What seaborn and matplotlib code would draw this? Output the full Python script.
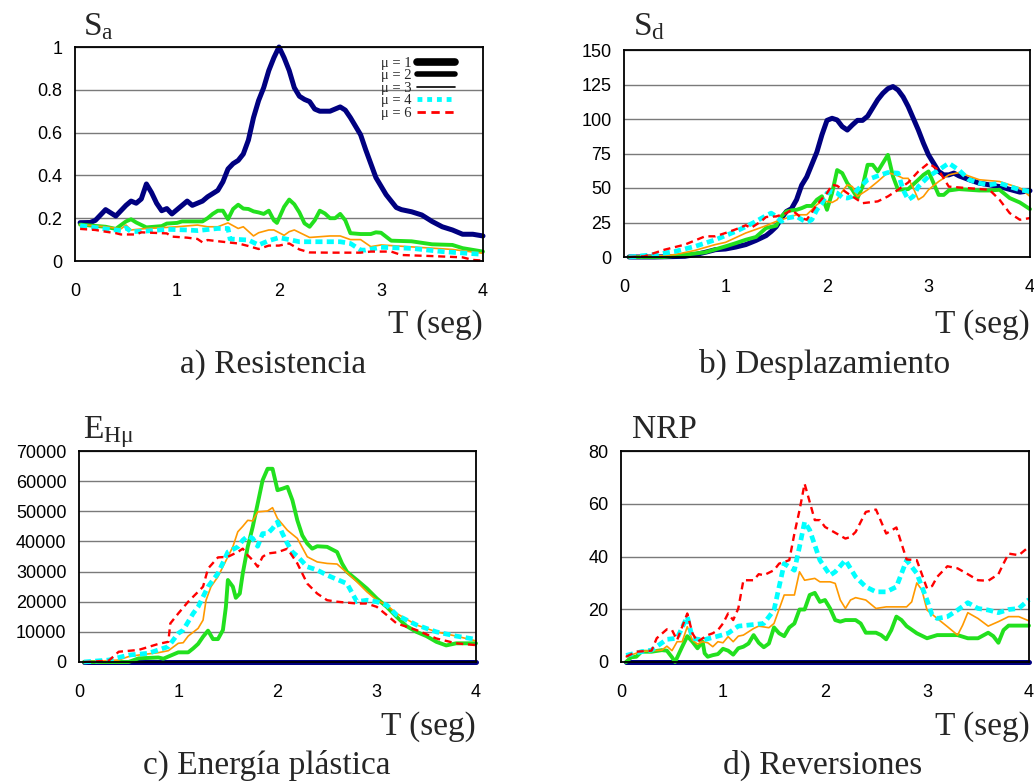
import pandas as pd
import seaborn as sns
import matplotlib.pyplot as plt
from matplotlib.lines import Line2D

# Series labels / colours
mu_labels = ['μ = 1', 'μ = 2', 'μ = 3', 'μ = 4', 'μ = 6']
mu_colors = ['#000080', '#22E01E', '#FF9900', '#00FFFF', '#FF0000']

# a) Resistencia : Sa vs T  (T, value)
sa_mu1 = [(0.05, 0.179), (0.15, 0.18), (0.2, 0.19), (0.3, 0.24), (0.4, 0.21), (0.5, 0.26), (0.55, 0.28),
          (0.6, 0.27), (0.65, 0.29), (0.7, 0.36), (0.75, 0.32), (0.8, 0.27), (0.85, 0.235), (0.9, 0.245),
          (0.95, 0.22), (1.0, 0.24), (1.05, 0.26), (1.1, 0.28), (1.15, 0.26), (1.2, 0.27), (1.25, 0.28),
          (1.3, 0.30), (1.4, 0.33), (1.45, 0.37), (1.5, 0.43), (1.55, 0.455), (1.6, 0.47), (1.65, 0.50),
          (1.7, 0.565), (1.75, 0.67), (1.8, 0.75), (1.85, 0.81), (1.9, 0.89), (1.95, 0.95), (2.0, 1.0),
          (2.05, 0.95), (2.1, 0.89), (2.15, 0.81), (2.2, 0.77), (2.25, 0.755), (2.3, 0.745), (2.35, 0.71),
          (2.4, 0.70), (2.5, 0.70), (2.55, 0.71), (2.6, 0.72), (2.65, 0.705), (2.7, 0.67), (2.8, 0.59),
          (2.85, 0.52), (2.9, 0.455), (2.95, 0.39), (3.0, 0.35), (3.05, 0.31), (3.1, 0.28), (3.15, 0.25),
          (3.2, 0.24), (3.3, 0.23), (3.4, 0.215), (3.5, 0.185), (3.6, 0.16), (3.7, 0.145), (3.8, 0.125),
          (3.9, 0.125), (4.0, 0.117)]
sa_mu2 = [(0.05, 0.17), (0.3, 0.16), (0.4, 0.15), (0.5, 0.185), (0.55, 0.195), (0.6, 0.18), (0.7, 0.157),
          (0.85, 0.163), (0.9, 0.175), (1.0, 0.178), (1.05, 0.185), (1.25, 0.185), (1.3, 0.2), (1.35, 0.22),
          (1.4, 0.235), (1.45, 0.235), (1.5, 0.195), (1.55, 0.243), (1.6, 0.263), (1.65, 0.245), (1.7, 0.243),
          (1.75, 0.232), (1.8, 0.227), (1.85, 0.22), (1.9, 0.235), (1.95, 0.19), (1.98, 0.178), (2.05, 0.253),
          (2.1, 0.287), (2.15, 0.265), (2.2, 0.227), (2.25, 0.176), (2.3, 0.16), (2.35, 0.19), (2.4, 0.235),
          (2.45, 0.222), (2.5, 0.2), (2.55, 0.2), (2.6, 0.22), (2.65, 0.19), (2.7, 0.13), (2.8, 0.126),
          (2.9, 0.126), (2.95, 0.134), (3.0, 0.132), (3.1, 0.095), (3.3, 0.092), (3.5, 0.078), (3.7, 0.075),
          (3.8, 0.06), (4.0, 0.044)]
sa_mu3 = [(0.05, 0.17), (0.3, 0.16), (0.45, 0.15), (0.5, 0.168), (0.55, 0.145), (0.7, 0.152), (0.9, 0.157),
          (1.0, 0.16), (1.2, 0.168), (1.3, 0.16), (1.4, 0.16), (1.5, 0.178), (1.6, 0.152), (1.65, 0.16),
          (1.75, 0.117), (1.8, 0.132), (1.9, 0.145), (1.95, 0.145), (2.05, 0.12), (2.1, 0.137), (2.15, 0.145),
          (2.3, 0.11), (2.5, 0.117), (2.6, 0.117), (2.7, 0.1), (2.8, 0.1), (2.9, 0.067), (3.0, 0.075),
          (3.5, 0.06), (3.7, 0.054), (4.0, 0.036)]
sa_mu4 = [(0.05, 0.165), (0.3, 0.15), (0.45, 0.142), (0.5, 0.155), (0.55, 0.137), (0.7, 0.14), (0.9, 0.148),
          (1.1, 0.145), (1.2, 0.142), (1.4, 0.152), (1.5, 0.152), (1.52, 0.103), (1.7, 0.098), (1.8, 0.075),
          (1.9, 0.095), (2.0, 0.109), (2.1, 0.1), (2.2, 0.09), (2.6, 0.09), (2.7, 0.082), (2.8, 0.051),
          (2.85, 0.051), (3.0, 0.064), (3.3, 0.059), (3.6, 0.044), (4.0, 0.031)]
sa_mu6 = [(0.05, 0.15), (0.2, 0.145), (0.3, 0.137), (0.4, 0.13), (0.45, 0.124), (0.6, 0.124), (0.65, 0.134),
          (0.9, 0.129), (0.95, 0.114), (1.1, 0.109), (1.2, 0.103), (1.25, 0.087), (1.3, 0.098), (1.5, 0.087),
          (1.6, 0.082), (1.7, 0.07), (1.8, 0.056), (1.9, 0.072), (2.0, 0.072), (2.1, 0.082), (2.2, 0.054),
          (2.3, 0.04), (2.5, 0.039), (2.8, 0.039), (2.9, 0.044), (3.1, 0.044), (3.2, 0.028), (3.5, 0.023),
          (3.8, 0.017), (3.9, 0.005), (4.0, 0.002)]

# b) Desplazamiento : Sd vs T
sd_mu1 = [(0.05, 0), (0.3, 0), (0.6, 0.5), (0.7, 1.7), (0.8, 3.4), (0.9, 5.3), (1.0, 5.8), (1.1, 7.2),
          (1.2, 9), (1.3, 12), (1.4, 15.5), (1.45, 18.5), (1.5, 22), (1.55, 28), (1.6, 33), (1.65, 35),
          (1.7, 41.5), (1.75, 52), (1.8, 58), (1.85, 67), (1.9, 76), (1.95, 88.5), (2.0, 99), (2.05, 100.5),
          (2.1, 99.3), (2.15, 94.5), (2.2, 92), (2.25, 95.7), (2.3, 99), (2.35, 99), (2.4, 102), (2.45, 108),
          (2.5, 114), (2.55, 118.6), (2.6, 122), (2.65, 123.5), (2.7, 121), (2.75, 116), (2.8, 109),
          (2.85, 100.5), (2.9, 92), (2.95, 82.5), (3.0, 74), (3.05, 68), (3.1, 62), (3.15, 59.5), (3.2, 59.5),
          (3.25, 60.8), (3.3, 58.8), (3.4, 56), (3.5, 53.5), (3.6, 52.3), (3.7, 51), (3.8, 49), (3.9, 47),
          (4.0, 48)]
sd_mu2 = [(0.05, 0), (0.4, 0), (0.6, 1.7), (0.8, 3.4), (1.0, 7.7), (1.1, 10), (1.2, 12.5), (1.3, 14.5),
          (1.4, 21), (1.5, 22.7), (1.55, 29.4), (1.6, 33), (1.65, 33.8), (1.7, 34.2), (1.75, 35.4), (1.8, 37),
          (1.85, 37), (1.9, 41.5), (1.95, 44), (2.0, 34.2), (2.05, 46.3), (2.1, 63), (2.15, 60.8), (2.2, 53.5),
          (2.25, 48.7), (2.3, 42.7), (2.35, 51), (2.4, 66.8), (2.45, 66.8), (2.5, 62), (2.55, 68), (2.6, 74),
          (2.65, 58.4), (2.7, 48.7), (2.8, 49.2), (2.9, 56), (2.95, 59.5), (3.0, 62), (3.05, 53.5), (3.1, 45),
          (3.15, 45), (3.2, 48.2), (3.3, 49.2), (3.5, 48.2), (3.6, 48.2), (3.7, 48.7), (3.8, 42.7),
          (3.9, 39.5), (4.0, 34.7)]
sd_mu3 = [(0.05, 0), (0.3, 0.5), (0.5, 1.7), (0.7, 4.8), (0.9, 9), (1.0, 10.6), (1.2, 17.4), (1.3, 20),
          (1.4, 22.7), (1.5, 25.8), (1.6, 28.2), (1.7, 30.6), (1.8, 30.6), (1.85, 34.2), (1.9, 37.9),
          (1.95, 40.3), (2.0, 40.3), (2.05, 39.5), (2.1, 41.5), (2.15, 47.5), (2.2, 52.3), (2.25, 51),
          (2.3, 43.9), (2.4, 48.7), (2.5, 54.7), (2.6, 61.2), (2.7, 58.8), (2.75, 57), (2.8, 57), (2.85, 50),
          (2.9, 41.5), (2.95, 43.9), (3.0, 48.7), (3.1, 54.7), (3.2, 59.5), (3.3, 61.2), (3.5, 56),
          (3.7, 54.7), (3.9, 50), (4.0, 43.9)]
sd_mu4 = [(0.05, 0), (0.3, 1.7), (0.5, 4), (0.7, 7.7), (0.9, 12.5), (1.1, 18.5), (1.2, 22), (1.3, 25.8),
          (1.4, 30), (1.45, 31.8), (1.5, 29.4), (1.55, 25.8), (1.6, 28.2), (1.7, 29.4), (1.8, 25),
          (1.85, 27), (1.9, 34.2), (1.95, 39), (2.0, 46.3), (2.05, 47.5), (2.1, 46.3), (2.15, 43.2),
          (2.2, 42.7), (2.25, 43.9), (2.3, 48.7), (2.4, 56), (2.5, 58.8), (2.6, 61.2), (2.7, 60.8),
          (2.75, 48.7), (2.8, 41.5), (2.85, 43.9), (2.9, 51), (3.0, 58.4), (3.1, 63), (3.2, 68), (3.3, 63),
          (3.4, 56), (3.5, 53.5), (3.6, 52.3), (3.7, 53.5), (3.8, 51), (3.9, 48.7), (4.0, 47.5)]
sd_mu6 = [(0.05, 0), (0.2, 0.5), (0.4, 5.3), (0.6, 9), (0.8, 15), (0.9, 15), (1.0, 17.4), (1.1, 20),
          (1.2, 23), (1.25, 21), (1.35, 25.8), (1.4, 29), (1.5, 29.4), (1.6, 31.8), (1.65, 34.2), (1.7, 31.3),
          (1.75, 28.2), (1.8, 27), (1.9, 37.9), (2.0, 46.3), (2.05, 52.3), (2.1, 51.6), (2.2, 46.3),
          (2.3, 41.5), (2.35, 39), (2.5, 40.3), (2.6, 43.9), (2.7, 48.7), (2.8, 54), (2.9, 62), (3.0, 68),
          (3.1, 63), (3.2, 51), (3.3, 50.4), (3.6, 48.7), (3.7, 41.5), (3.8, 31.8), (3.9, 27), (4.0, 28.2)]

# c) Energía plástica : EHmu vs T
eh_mu1 = [(0.05, 0), (1.0, 0), (2.0, 0), (3.0, 0), (4.0, 0)]
eh_mu2 = [(0.05, 0), (0.5, 0), (0.6, 1200), (0.8, 1500), (0.85, 1100), (0.9, 1800), (1.0, 3200),
          (1.1, 3200), (1.15, 4500), (1.2, 6000), (1.25, 8400), (1.3, 10400), (1.35, 7600), (1.4, 7600),
          (1.45, 10600), (1.48, 18300), (1.5, 27200), (1.55, 25000), (1.58, 21300), (1.62, 22700),
          (1.65, 29400), (1.7, 38200), (1.75, 44800), (1.8, 52500), (1.85, 60300), (1.9, 64100),
          (1.95, 64100), (2.0, 57000), (2.05, 57500), (2.1, 58100), (2.15, 53700), (2.2, 47000),
          (2.25, 42000), (2.3, 39300), (2.35, 37600), (2.4, 38400), (2.5, 38200), (2.6, 36500),
          (2.65, 32700), (2.7, 29900), (2.8, 27200), (2.9, 24400), (3.0, 21100), (3.1, 18300),
          (3.2, 15000), (3.3, 11900), (3.4, 10000), (3.5, 8600), (3.6, 6700), (3.7, 5500), (3.8, 6200),
          (4.0, 6200)]
eh_mu3 = [(0.05, 0), (0.4, 660), (0.5, 1800), (0.6, 2300), (0.8, 3100), (0.9, 3750), (1.0, 6200),
          (1.05, 6400), (1.1, 8600), (1.2, 11150), (1.25, 13900), (1.28, 20500), (1.33, 25000), (1.4, 28300),
          (1.5, 34900), (1.55, 38200), (1.6, 43200), (1.65, 45000), (1.7, 47000), (1.75, 46800),
          (1.8, 49800), (1.9, 50100), (1.95, 51200), (2.0, 47600), (2.1, 43700), (2.2, 41000), (2.3, 34900),
          (2.4, 33200), (2.5, 32700), (2.6, 32500), (2.7, 29600), (2.8, 26600), (2.9, 23300), (3.0, 20500),
          (3.1, 18900), (3.2, 16100), (3.4, 12300), (3.6, 10000), (3.8, 8600), (4.0, 7000)]
eh_mu4 = [(0.05, 0), (0.3, 660), (0.5, 2300), (0.7, 2900), (0.9, 5100), (1.0, 9500), (1.05, 10600),
          (1.15, 16100), (1.2, 18300), (1.3, 25000), (1.4, 29400), (1.5, 36500), (1.6, 38200), (1.65, 40400),
          (1.7, 41800), (1.75, 41000), (1.8, 38400), (1.85, 42600), (1.9, 42600), (1.95, 44300),
          (2.0, 46500), (2.05, 42600), (2.1, 39300), (2.15, 36500), (2.2, 35100), (2.3, 31600), (2.4, 30500),
          (2.5, 28800), (2.6, 27400), (2.7, 26000), (2.8, 20000), (2.9, 20500), (3.0, 20000), (3.1, 18900),
          (3.2, 15600), (3.4, 12300), (3.6, 10000), (3.8, 8600), (4.0, 7500)]
eh_mu6 = [(0.05, 0), (0.3, 440), (0.4, 3400), (0.6, 4000), (0.8, 6000), (0.9, 6700), (0.92, 12800),
          (1.0, 16100), (1.1, 20000), (1.2, 23300), (1.25, 25000), (1.3, 31000), (1.4, 34700), (1.5, 34900),
          (1.6, 36500), (1.65, 37600), (1.7, 35400), (1.75, 33800), (1.8, 31600), (1.85, 34900),
          (1.9, 36000), (2.0, 36400), (2.1, 37600), (2.2, 32700), (2.3, 26000), (2.4, 22700), (2.5, 20500),
          (2.6, 20000), (2.8, 19400), (2.9, 19400), (3.0, 18300), (3.1, 15600), (3.2, 12800), (3.4, 10600),
          (3.6, 7800), (3.8, 6200), (4.0, 5600)]

# d) Reversiones : NRP vs T
nr_mu1 = [(0.05, 0), (1.0, 0), (2.0, 0), (3.0, 0), (4.0, 0)]
nr_mu2 = [(0.05, 0), (0.1, 1.8), (0.15, 2), (0.2, 3.9), (0.3, 3.9), (0.4, 4.5), (0.45, 4.3), (0.5, 1.8),
          (0.53, 0), (0.6, 5.8), (0.65, 9.8), (0.7, 7.7), (0.75, 5.2), (0.8, 7.7), (0.82, 3.3), (0.85, 2),
          (0.9, 2.6), (0.95, 3), (1.0, 5), (1.05, 4.3), (1.1, 2.8), (1.15, 5.2), (1.2, 5.8), (1.25, 7),
          (1.3, 10.2), (1.35, 7.3), (1.4, 5.6), (1.45, 7), (1.5, 13.1), (1.55, 10.9), (1.6, 9.8), (1.65, 13.1),
          (1.7, 14.6), (1.75, 19.9), (1.8, 19.9), (1.85, 25.4), (1.9, 26.2), (1.95, 22.8), (2.0, 23.5),
          (2.05, 20.3), (2.1, 15.9), (2.15, 15.3), (2.2, 15.9), (2.3, 15.9), (2.35, 14.6), (2.4, 11.1),
          (2.5, 11.1), (2.55, 10.2), (2.6, 8.6), (2.65, 12.1), (2.7, 17.2), (2.75, 15.9), (2.8, 13.6),
          (2.9, 10.9), (3.0, 9), (3.1, 10.2), (3.3, 10.2), (3.4, 9), (3.5, 9), (3.6, 11.1), (3.65, 9.8),
          (3.7, 7.3), (3.75, 12.1), (3.8, 13.8), (4.0, 13.8)]
nr_mu3 = [(0.05, 2), (0.2, 4), (0.4, 4.5), (0.45, 6), (0.5, 4.3), (0.55, 7.7), (0.6, 7.7), (0.65, 13.4),
          (0.7, 8.3), (0.75, 6.8), (0.8, 7.7), (0.85, 7.3), (0.9, 5.8), (0.95, 7.7), (1.0, 7.3), (1.05, 9.6),
          (1.1, 7.7), (1.15, 9.8), (1.2, 10.2), (1.3, 12.7), (1.35, 13.6), (1.45, 13), (1.5, 14.6),
          (1.6, 25.4), (1.7, 25.4), (1.75, 34.2), (1.8, 31), (1.9, 31.7), (1.95, 30.4), (2.05, 30.4),
          (2.1, 29.8), (2.15, 23.5), (2.2, 20.3), (2.25, 23.5), (2.3, 24.4), (2.4, 23.5), (2.5, 20.3),
          (2.6, 20.9), (2.8, 20.9), (2.85, 22.8), (2.9, 30), (2.95, 27.3), (3.0, 19.7), (3.1, 16.5),
          (3.2, 13.4), (3.3, 10.2), (3.35, 14), (3.4, 18.7), (3.5, 16.5), (3.6, 13.6), (3.7, 15.3),
          (3.8, 17.2), (3.9, 17.2), (4.0, 15.6)]
nr_mu4 = [(0.05, 2.5), (0.2, 3.9), (0.3, 4.5), (0.45, 8.6), (0.55, 9), (0.65, 17.2), (0.7, 9), (0.8, 8.3),
          (0.95, 9.8), (1.05, 10.9), (1.15, 13.6), (1.25, 14), (1.4, 14.6), (1.5, 19.7), (1.6, 37.3),
          (1.7, 34.8), (1.75, 43.7), (1.8, 53.1), (1.85, 50), (1.95, 38.6), (2.05, 32.9), (2.1, 34.2),
          (2.2, 38.6), (2.3, 32.3), (2.4, 28.5), (2.5, 26.6), (2.6, 26.6), (2.7, 28.5), (2.8, 38.6),
          (2.9, 33.6), (3.0, 23.5), (3.05, 17.8), (3.1, 16.5), (3.2, 17.2), (3.3, 19.7), (3.4, 22.5),
          (3.5, 20.3), (3.6, 19.7), (3.7, 18.7), (3.8, 19.9), (3.9, 20.3), (4.0, 23.7)]
nr_mu6 = [(0.05, 2), (0.15, 3.9), (0.3, 4.3), (0.35, 9), (0.45, 12.4), (0.5, 12.1), (0.55, 8.3),
          (0.65, 18.4), (0.7, 10.9), (0.75, 7.7), (0.85, 10.2), (0.9, 10.9), (0.95, 12.1), (1.0, 14.6),
          (1.05, 18.4), (1.1, 15.9), (1.15, 20.3), (1.2, 31), (1.3, 31), (1.35, 33.3), (1.4, 32.9),
          (1.5, 34.8), (1.55, 37.3), (1.65, 38.6), (1.7, 48.7), (1.75, 57.5), (1.8, 67.6), (1.85, 60.7),
          (1.9, 53.8), (1.95, 53.8), (2.0, 51.2), (2.1, 49), (2.2, 46.8), (2.25, 47.4), (2.3, 49.3),
          (2.4, 56.9), (2.5, 57.8), (2.6, 48.7), (2.7, 51), (2.75, 44.9), (2.8, 38.9), (2.9, 38.6),
          (3.0, 27.9), (3.05, 28.8), (3.1, 32.3), (3.2, 36.3), (3.3, 35.5), (3.4, 33.3), (3.5, 31),
          (3.6, 30.8), (3.7, 33.3), (3.75, 37.3), (3.8, 41.1), (3.9, 40.5), (4.0, 43.7)]

x_ticks = [0, 1, 2, 3, 4]
ya_ticks = [0, 0.2, 0.4, 0.6, 0.8, 1]
ya_labels = ['0', '0.2', '0.4', '0.6', '0.8', '1']
yb_ticks = [0, 25, 50, 75, 100, 125, 150]
yc_ticks = [0, 10000, 20000, 30000, 40000, 50000, 60000, 70000]
yd_ticks = [0, 20, 40, 60, 80]

panels = [
    ([sa_mu1, sa_mu2, sa_mu3, sa_mu4, sa_mu6], ya_ticks, ya_labels, r'$\mathrm{S}_{\mathrm{a}}$', 'a) Resistencia'),
    ([sd_mu1, sd_mu2, sd_mu3, sd_mu4, sd_mu6], yb_ticks, [str(v) for v in yb_ticks], r'$\mathrm{S}_{\mathrm{d}}$', 'b) Desplazamiento'),
    ([eh_mu1, eh_mu2, eh_mu3, eh_mu4, eh_mu6], yc_ticks, [str(v) for v in yc_ticks], r'$\mathrm{E}_{\mathrm{Hμ}}$', 'c) Energía plástica'),
    ([nr_mu1, nr_mu2, nr_mu3, nr_mu4, nr_mu6], yd_ticks, [str(v) for v in yd_ticks], 'NRP', 'd) Reversiones'),
]

# layout (figure pixels, 1034 x 782)
W, H = 1034, 782
rects = [(75, 47, 483, 261), (624, 50, 1030, 257), (79, 451, 476, 662), (621, 451, 1029, 662)]
ylab_pos = [(83, 35), (633, 35), (83, 438), (632, 438)]
tseg_pos = [(483, 333), (1030, 333), (476, 735), (1030, 735)]
cap_pos = [(273, 373), (825, 373), (267, 774), (823, 774)]

line_kw = [dict(lw=3.6, ls='-'), dict(lw=2.8, ls='-'), dict(lw=1.2, ls='-'),
           dict(lw=3.4, ls=(0, (1.5, 0.9))), dict(lw=1.7, ls=(0, (3, 2)))]

sns.set_style('white', {'axes.edgecolor': 'black'})
plt.rcParams['font.family'] = ['Liberation Sans Narrow', 'Liberation Sans', 'DejaVu Sans']
plt.rcParams['mathtext.fontset'] = 'custom'
plt.rcParams['mathtext.rm'] = 'Liberation Serif'
plt.rcParams['mathtext.it'] = 'Liberation Serif:italic'
serif = ['Liberation Serif', 'DejaVu Serif']

fig = plt.figure(figsize=(W / 100, H / 100), dpi=100)

for i, (series, yt, ylabels, ylab, cap) in enumerate(panels):
    x0, y0, x1, y1 = rects[i]
    ax = fig.add_axes([x0 / W, 1 - y1 / H, (x1 - x0) / W, (y1 - y0) / H])
    for j, pts in enumerate(series):
        df = pd.DataFrame(pts, columns=['T', 'v'])
        sns.lineplot(data=df, x='T', y='v', ax=ax, color=mu_colors[j], estimator=None,
                     sort=False, legend=False, clip_on=False, **line_kw[j])
    ax.set(xlabel='', ylabel='')
    ax.set_xlim(0, 4)
    ax.set_ylim(yt[0], yt[-1])
    ax.set_xticks(x_ticks)
    ax.set_xticklabels([str(t) for t in x_ticks])
    ax.set_yticks(yt)
    ax.set_yticklabels(ylabels)
    ax.yaxis.grid(True, color='#7a7a7a', lw=1)
    ax.xaxis.grid(False)
    ax.set_axisbelow(True)
    for s in ax.spines.values():
        s.set_color('black')
        s.set_linewidth(1.3)
    ax.tick_params(axis='x', length=5, width=1, pad=11, labelsize=13, colors='black')
    ax.tick_params(axis='y', length=4, width=1, pad=5, labelsize=13, colors='black')

    fig.text(ylab_pos[i][0] / W, 1 - ylab_pos[i][1] / H, ylab, fontsize=24, family=serif,
             ha='left', va='baseline')
    fig.text(tseg_pos[i][0] / W, 1 - tseg_pos[i][1] / H, 'T (seg)', fontsize=24, family=serif,
             ha='right', va='baseline')
    fig.text(cap_pos[i][0] / W, 1 - cap_pos[i][1] / H, cap, fontsize=24, family=serif,
             ha='center', va='baseline')

    if i == 0:
        handles = [Line2D([], [], color='black', lw=5.5, solid_capstyle='round'),
                   Line2D([], [], color='black', lw=4, solid_capstyle='round'),
                   Line2D([], [], color='black', lw=1.2),
                   Line2D([], [], color=mu_colors[3], lw=3.5, ls=(0, (1, 1))),
                   Line2D([], [], color=mu_colors[4], lw=2, ls=(0, (3, 2)))]
        ax.legend(handles, mu_labels, loc='upper right', bbox_to_anchor=(0.931, 0.955),
                  frameon=False, markerfirst=False, handlelength=2.6, handletextpad=0.35,
                  labelspacing=-0.05, borderpad=0, borderaxespad=0,
                  prop={'family': serif, 'size': 10.5})

fig.savefig('out.png', dpi=100)
